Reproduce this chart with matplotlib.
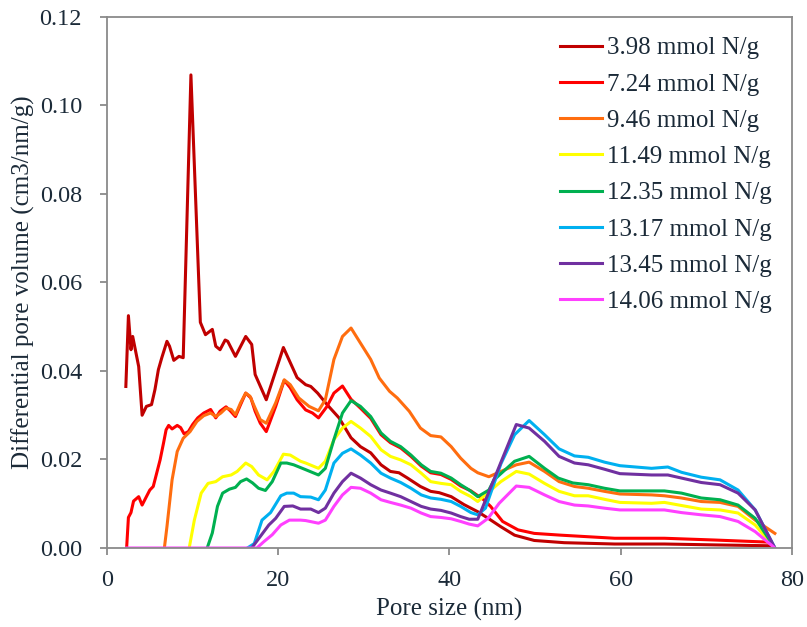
import numpy as np
import matplotlib
matplotlib.use('Agg')
import matplotlib.pyplot as plt

plt.rcParams['font.family'] = ['Liberation Serif', 'DejaVu Serif']

# BJH pore size distributions
labels = ['3.98 mmol N/g', '7.24 mmol N/g', '9.46 mmol N/g', '11.49 mmol N/g',
          '12.35 mmol N/g', '13.17 mmol N/g', '13.45 mmol N/g', '14.06 mmol N/g']
colors = ['#C00000', '#FF0000', '#FF6D0F', '#FFFF00',
          '#00B050', '#00B0F0', '#7030A0', '#FF40FF']

x_398 = [2.2, 2.5, 2.8, 3.0, 3.7, 4.1, 4.6, 5.2, 5.6, 6.0, 6.4, 7.0, 7.3, 7.8, 8.4, 8.9,
         9.8, 10.9, 11.5, 12.3, 12.7, 13.2, 13.8, 14.1, 15.0, 16.2, 16.9, 17.3, 18.6, 20.6,
         22.2, 23.2, 23.8, 24.6, 25.7, 27.1, 28.5, 29.6, 30.8, 32.0, 33.1, 34.1, 35.1, 36.6,
         37.8, 38.8, 40.2, 41.7, 43.3, 44.6, 46.0, 47.6, 49.9, 53.4, 59.3, 65.1, 71.0, 77.6]
y_398 = [0.0365, 0.0525, 0.0448, 0.0478, 0.041, 0.030, 0.032, 0.0324, 0.0358, 0.0403,
         0.043, 0.0467, 0.0456, 0.0424, 0.0433, 0.043, 0.1069, 0.051, 0.0482, 0.0494,
         0.0456, 0.0448, 0.047, 0.0467, 0.0433, 0.0478, 0.046, 0.0392, 0.0335, 0.0453,
         0.0385, 0.0369, 0.0365, 0.035, 0.0324, 0.0294, 0.0249, 0.0229, 0.0215, 0.0188,
         0.0173, 0.017, 0.0158, 0.0139, 0.0128, 0.0125, 0.0116, 0.0098, 0.0082, 0.0066,
         0.0048, 0.0029, 0.0017, 0.0012, 0.0009, 0.0009, 0.0007, 0.0005]

x_724 = [2.3, 2.5, 2.8, 3.1, 3.7, 4.1, 4.6, 5.0, 5.4, 5.8, 6.2, 6.6, 6.9, 7.2, 7.6, 8.2,
         8.6, 9.0, 9.5, 10.0, 10.6, 11.3, 12.1, 12.7, 13.2, 13.9, 14.4, 15.0, 15.6, 16.2,
         16.8, 17.3, 17.9, 18.6, 19.7, 20.7, 21.4, 22.2, 23.2, 24.0, 24.7, 25.7, 26.5, 27.5,
         28.5, 29.6, 30.8, 32.0, 33.1, 34.3, 35.5, 36.7, 37.8, 39.0, 40.2, 41.3, 42.5, 44.0,
         44.8, 46.2, 48.0, 49.9, 53.0, 59.3, 65.1, 71.0, 77.6]
y_724 = [0.0003, 0.0069, 0.008, 0.0106, 0.0116, 0.0097, 0.0116, 0.0131, 0.0139, 0.0169,
         0.0199, 0.0237, 0.0267, 0.0277, 0.0269, 0.0277, 0.0272, 0.0258, 0.0263, 0.0279,
         0.0294, 0.0305, 0.0313, 0.0294, 0.0309, 0.0319, 0.031, 0.0297, 0.0324, 0.035,
         0.0339, 0.0309, 0.0282, 0.0263, 0.032, 0.0379, 0.0362, 0.0335, 0.0312, 0.0305,
         0.0294, 0.032, 0.035, 0.0366, 0.0336, 0.0316, 0.0293, 0.0256, 0.0238, 0.0226,
         0.0207, 0.0185, 0.0170, 0.0166, 0.0155, 0.0140, 0.0129, 0.0109, 0.0094, 0.006,
         0.0041, 0.0033, 0.0029, 0.0022, 0.0022, 0.0018, 0.0013]

x_946 = [6.7, 7.0, 7.6, 8.2, 8.9, 9.7, 10.5, 11.3, 12.1, 12.7, 13.3, 13.9, 14.5, 15.0,
         15.6, 16.2, 16.7, 17.3, 17.9, 18.6, 19.7, 20.7, 21.4, 22.4, 23.6, 24.7, 25.5, 26.5,
         27.5, 28.5, 29.6, 30.8, 31.8, 33.0, 33.9, 35.3, 36.6, 37.8, 39.0, 40.2, 41.3, 42.5,
         43.3, 44.6, 46.0, 47.8, 49.3, 51.1, 52.8, 54.6, 56.2, 58.1, 59.9, 63.6, 65.1, 67.1,
         69.4, 71.6, 73.7, 75.7, 78.0]
y_946 = [0.0, 0.0048, 0.0154, 0.0218, 0.0248, 0.0263, 0.0286, 0.0299, 0.0305, 0.0297,
         0.0305, 0.0316, 0.0313, 0.0301, 0.0328, 0.035, 0.0343, 0.0316, 0.029, 0.0282,
         0.0328, 0.038, 0.0369, 0.0339, 0.032, 0.031, 0.0335, 0.0426, 0.0478, 0.0497,
         0.0463, 0.0426, 0.0384, 0.0354, 0.0339, 0.0309, 0.0271, 0.0254, 0.0251, 0.0229,
         0.0203, 0.018, 0.017, 0.0161, 0.0173, 0.0188, 0.0194, 0.0173, 0.015, 0.0139,
         0.0135, 0.0128, 0.0122, 0.012, 0.0118, 0.0113, 0.0105, 0.0103, 0.0094, 0.0063, 0.0033]

x_1149 = [9.6, 10.2, 11.0, 11.8, 12.7, 13.5, 14.5, 15.2, 16.2, 16.9, 17.7, 18.7, 19.5,
          20.6, 21.4, 22.6, 23.2, 24.7, 25.5, 26.5, 27.5, 28.5, 29.6, 30.8, 32.0, 33.1,
          34.3, 35.5, 36.7, 37.8, 39.0, 40.2, 41.3, 42.5, 43.3, 44.6, 46.0, 47.8, 49.3,
          51.1, 52.8, 54.6, 56.2, 58.1, 59.9, 63.6, 65.1, 67.1, 69.4, 71.6, 73.7, 75.7, 78.0]
y_1149 = [0.0, 0.0063, 0.0124, 0.0146, 0.015, 0.0161, 0.0165, 0.0173, 0.0192, 0.0184,
          0.0165, 0.0154, 0.0173, 0.0212, 0.021, 0.0196, 0.0192, 0.018, 0.0196, 0.0245,
          0.0271, 0.0286, 0.0271, 0.0252, 0.0222, 0.0207, 0.0199, 0.0188, 0.0169, 0.015,
          0.0146, 0.0143, 0.0128, 0.0116, 0.0105, 0.0127, 0.015, 0.0173, 0.0167, 0.0146,
          0.0128, 0.0118, 0.0118, 0.011, 0.0103, 0.0101, 0.0103, 0.0096, 0.0088, 0.0086,
          0.0079, 0.0052, 0.0]

x_1235 = [11.7, 12.3, 12.9, 13.5, 14.3, 15.0, 15.6, 16.3, 17.0, 17.7, 18.5, 19.3, 20.3,
          21.0, 21.8, 23.2, 24.7, 25.5, 26.5, 27.5, 28.5, 29.6, 30.8, 32.0, 33.1, 34.3,
          35.5, 36.7, 37.8, 39.0, 40.2, 41.3, 42.3, 43.3, 44.6, 45.2, 47.6, 49.3, 51.1,
          52.7, 54.4, 56.2, 58.1, 59.9, 65.1, 67.1, 69.4, 71.6, 73.7, 75.7, 78.0]
y_1235 = [0.0, 0.0034, 0.0094, 0.0124, 0.0133, 0.0137, 0.015, 0.0156, 0.0147, 0.0135,
          0.013, 0.015, 0.0192, 0.0192, 0.0188, 0.0177, 0.0165, 0.018, 0.0245, 0.0305,
          0.0333, 0.032, 0.0297, 0.026, 0.0241, 0.0229, 0.021, 0.0188, 0.0173, 0.0169,
          0.0158, 0.0143, 0.0131, 0.0116, 0.0131, 0.0154, 0.0196, 0.0207, 0.018, 0.0158,
          0.0147, 0.0143, 0.0135, 0.0129, 0.0129, 0.0124, 0.0113, 0.0109, 0.0097, 0.0067, 0.0]

x_1317 = [16.4, 17.2, 18.1, 19.1, 20.3, 21.0, 21.8, 22.6, 23.8, 24.7, 25.5, 26.5, 27.5,
          28.5, 29.6, 30.8, 32.0, 33.1, 34.3, 35.5, 36.7, 37.8, 39.0, 40.2, 41.3, 42.5,
          43.3, 44.2, 46.0, 47.6, 49.3, 51.1, 52.8, 54.6, 56.2, 58.1, 59.9, 63.6, 65.5,
          67.1, 69.4, 71.6, 73.7, 75.7, 78.0]
y_1317 = [0.0, 0.001, 0.0063, 0.008, 0.0118, 0.0124, 0.0124, 0.0116, 0.0115, 0.0109,
          0.0131, 0.0192, 0.0214, 0.0224, 0.021, 0.0192, 0.0169, 0.0158, 0.0148, 0.0135,
          0.012, 0.0113, 0.011, 0.0105, 0.0094, 0.008, 0.0075, 0.009, 0.019, 0.0256,
          0.0288, 0.0256, 0.0224, 0.0208, 0.0205, 0.0194, 0.0186, 0.018, 0.0183, 0.0171,
          0.016, 0.0154, 0.0131, 0.0086, 0.0]

x_1345 = [16.9, 17.9, 18.9, 19.7, 20.7, 21.7, 22.6, 23.8, 24.7, 25.5, 26.5, 27.5, 28.5,
          29.6, 30.8, 32.0, 33.1, 34.3, 35.5, 36.7, 37.8, 39.0, 40.2, 41.3, 42.3, 43.3,
          47.8, 49.3, 51.1, 52.8, 54.6, 56.2, 58.1, 59.9, 63.6, 65.5, 67.1, 69.4, 71.6,
          73.7, 75.7, 78.0]
y_1345 = [0.0, 0.0026, 0.0052, 0.0067, 0.0094, 0.0095, 0.0088, 0.0088, 0.008, 0.009,
          0.0124, 0.015, 0.0169, 0.0158, 0.0143, 0.0131, 0.0124, 0.0116, 0.0105, 0.0094,
          0.0088, 0.0085, 0.0079, 0.0071, 0.0065, 0.0065, 0.0279, 0.0271, 0.0241, 0.0207,
          0.0192, 0.0188, 0.0178, 0.0168, 0.0165, 0.0165, 0.0158, 0.0148, 0.0143, 0.0124,
          0.0086, 0.0]

x_1406 = [2.3, 17.5, 18.3, 19.3, 20.3, 21.3, 22.6, 23.2, 24.7, 25.5, 26.5, 27.5, 28.5,
          29.6, 30.8, 32.0, 33.1, 34.3, 35.5, 36.7, 37.8, 39.0, 40.2, 41.3, 42.3, 43.3,
          44.5, 45.8, 47.8, 49.3, 51.1, 52.8, 54.6, 56.2, 58.1, 59.9, 63.6, 65.1, 67.1,
          69.4, 71.6, 73.7, 75.7, 78.0]
y_1406 = [0.0, 0.0, 0.0014, 0.003, 0.0052, 0.0063, 0.0063, 0.0062, 0.0056, 0.0063,
          0.0094, 0.012, 0.0137, 0.0135, 0.0124, 0.0109, 0.0103, 0.0097, 0.009, 0.0079,
          0.0071, 0.0069, 0.0066, 0.006, 0.0054, 0.005, 0.0067, 0.0101, 0.014, 0.0137,
          0.012, 0.0105, 0.0097, 0.0095, 0.009, 0.0086, 0.0086, 0.0086, 0.008, 0.0075,
          0.0071, 0.006, 0.0037, 0.0]

series = [(x_398, y_398), (x_724, y_724), (x_946, y_946), (x_1149, y_1149),
          (x_1235, y_1235), (x_1317, y_1317), (x_1345, y_1345), (x_1406, y_1406)]

txt = '#1b2a38'
frame = '#8a8a8a'

fig = plt.figure(figsize=(8.07, 6.27), dpi=100)
ax = fig.add_axes([0.1326, 0.126, 0.8488, 0.847])

for (xs, ys), c, lab in zip(series, colors, labels):
    ax.plot(xs, ys, color=c, lw=2.2, label=lab, solid_joinstyle='round')

ax.set_xlim(0, 80)
ax.set_ylim(0, 0.12)
ax.set_xticks([0, 20, 40, 60, 80])
ax.set_yticks(np.arange(0, 0.1201, 0.02))
ax.yaxis.set_major_formatter(matplotlib.ticker.FormatStrFormatter('%.2f'))

for s in ax.spines.values():
    s.set_color(frame)
    s.set_linewidth(1.3)
ax.tick_params(direction='out', length=5, width=1.3, color=frame,
               labelsize=17.5, labelcolor=txt)
ax.tick_params(axis='x', pad=11)
ax.tick_params(axis='y', pad=13)

ax.set_xlabel('Pore size (nm)', fontsize=18, color=txt, labelpad=5)
ax.set_ylabel('Differential pore volume (cm3/nm/g)', fontsize=18, color=txt, labelpad=3)

leg = ax.legend(loc='upper right', frameon=False, fontsize=18, handlelength=1.7,
                handletextpad=0.2, labelspacing=0.55, borderaxespad=0.4,
                bbox_to_anchor=(1.0, 1.0))
for t in leg.get_texts():
    t.set_color(txt)
for h in leg.get_lines():
    h.set_linewidth(2.2)

fig.savefig('out.png', dpi=100)
